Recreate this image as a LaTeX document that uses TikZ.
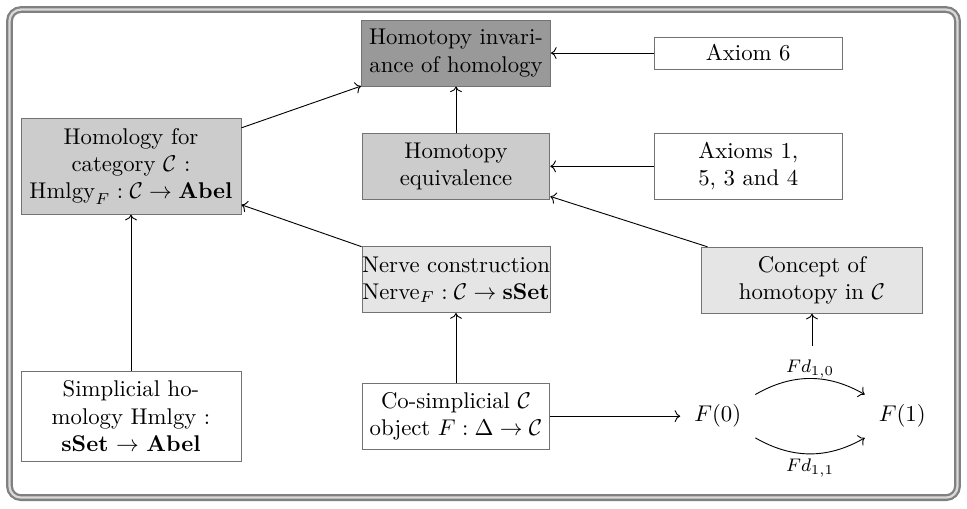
\documentclass[tikz,border=0pt]{standalone}
\usepackage{amsmath,amssymb,amsfonts}
\usepackage{tikz}
\usetikzlibrary{arrows.meta,positioning,calc}
\usepackage{xcolor}

\begin{document}
\begin{tikzpicture}[
        box/.style={draw=black!55, minimum width=2.9cm, minimum height=1.02cm,
          align=center, inner sep=3.33pt},
        wide/.style={box, minimum width=3.4cm},
        goalbox/.style={box, fill=black!40},
        resbox/.style={box, fill=black!20},
        conbox/.style={box, fill=black!10},
        obj/.style={inner sep=6pt},
        link/.style={draw=black, ->},
        lbl/.style={font=\footnotesize},
      ]
        \useasboundingbox (0,0) rectangle (14.94,7.85);
        \draw[black!50, line width=1pt, double=black!15, double distance=1pt,
          rounded corners=5pt] (0.147,0.162) rectangle (14.793,7.702);

        \node[goalbox] (inv) at (7.045, 7.03) {Homotopy invari-\\ance of homology};
        \node[box, minimum height=0.49cm] (ax6) at (11.56, 7.03) {Axiom 6};
        \node[resbox] (equiv) at (7.045, 5.28) {Homotopy\\equivalence};
        \node[box] (axs) at (11.56, 5.28) {Axioms 1,\\5, 3 and 4};
        \node[resbox, wide, minimum height=1.48cm] (hmlgy) at (2.024, 5.28)
          {Homology for\\category $\mathcal{C}$ :\\$\mathrm{Hmlgy}_F : \mathcal{C} \to \mathbf{Abel}$};
        \node[conbox, inner xsep=0pt] (nerve) at (7.045, 3.53)
          {Nerve construction\\$\mathrm{Nerve}_F : \mathcal{C} \to \mathbf{sSet}$};
        \node[conbox, wide] (htpy) at (12.545, 3.52) {Concept of\\homotopy in $\mathcal{C}$};
        \node[box, wide, minimum height=1.39cm] (simp) at (2.024, 1.42)
          {Simplicial ho-\\mology Hmlgy :\\\textbf{sSet} $\to$ \textbf{Abel}};
        \node[box] (cosimp) at (7.045, 1.42)
          {Co-simplicial $\mathcal{C}$\\object $F : \Delta \to \mathcal{C}$};
        \node[obj] (f0) at (11.09, 1.42) {$F(0)$};
        \node[obj] (f1) at (13.94, 1.42) {$F(1)$};
        \coordinate[below=0.5cm of htpy] (pair);

        \draw[link] (hmlgy) -- (inv);
        \draw[link] (ax6) -- (inv);
        \draw[link] (equiv) -- (inv);
        \draw[link] (axs) -- (equiv);
        \draw[link] (htpy) -- (equiv);
        \draw[link] (nerve) -- (hmlgy);
        \draw[link] (simp) -- (hmlgy);
        \draw[link] (cosimp) -- (nerve);
        \draw[link] (cosimp) -- (f0);
        \draw[link] (pair) -- (htpy);
        \draw[link] (f0) to[bend left=30] node[lbl, above, inner sep=0pt] {$Fd_{1,0}$} (f1);
        \draw[link] (f0) to[bend right=30] node[lbl, below, inner sep=2pt] {$Fd_{1,1}$} (f1);
      \end{tikzpicture}
\end{document}
